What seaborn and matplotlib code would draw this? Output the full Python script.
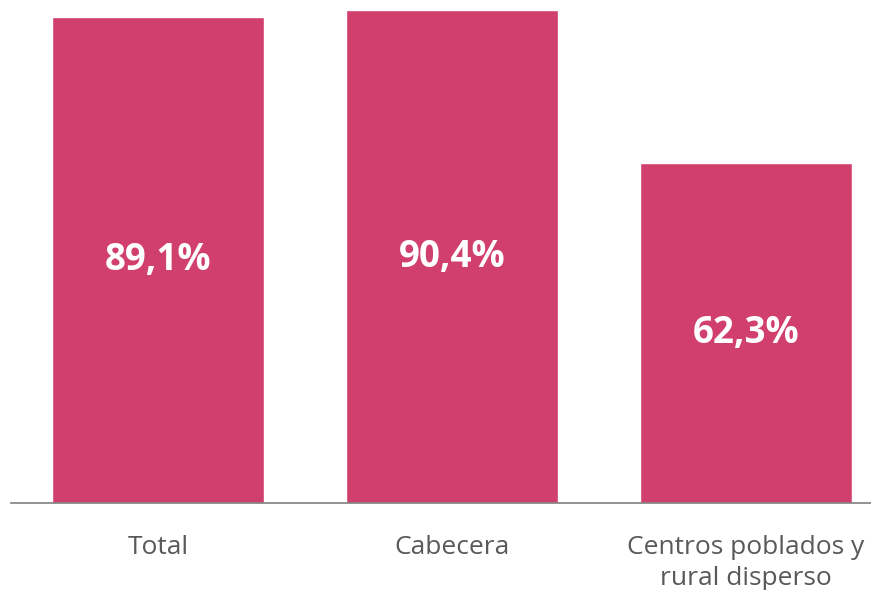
import matplotlib
matplotlib.use("Agg")
import matplotlib.pyplot as plt
import seaborn as sns
import pandas as pd

categorias = ["Total", "Cabecera", "Centros poblados y\nrural disperso"]
valores = [89.1, 90.4, 62.3]
etiquetas = ["89,1%", "90,4%", "62,3%"]

sns.set_style("white")
plt.rcParams["font.family"] = ["Open Sans", "DejaVu Sans"]

df = pd.DataFrame({"categoria": categorias, "valor": valores})

fig = plt.figure(figsize=(8.71, 5.9), dpi=100)
ax = fig.add_axes([11 / 871, 87 / 590, 860 / 871, 493 / 590])

sns.barplot(data=df, x="categoria", y="valor", color="#D13F6D", saturation=1,
            width=0.72, ax=ax)

for i, (v, t) in enumerate(zip(valores, etiquetas)):
    ax.text(i, v / 2, t, ha="center", va="center", color="white",
            fontsize=26.5, fontweight="bold")

ax.set_xlim(-0.5, (871 - 158) / 294)
ax.set_ylim(0, 90.4)
ax.set_xlabel("")
ax.set_ylabel("")
ax.set_yticks([])
ax.tick_params(axis="x", length=0, pad=23, labelsize=19, labelcolor="#595959")
for lbl in ax.get_xticklabels():
    lbl.set_linespacing(1.3)
for s in ["top", "right", "left"]:
    ax.spines[s].set_visible(False)
ax.spines["bottom"].set_color("#7f7f7f")
ax.spines["bottom"].set_linewidth(1.2)

fig.savefig("out.png", dpi=100)
